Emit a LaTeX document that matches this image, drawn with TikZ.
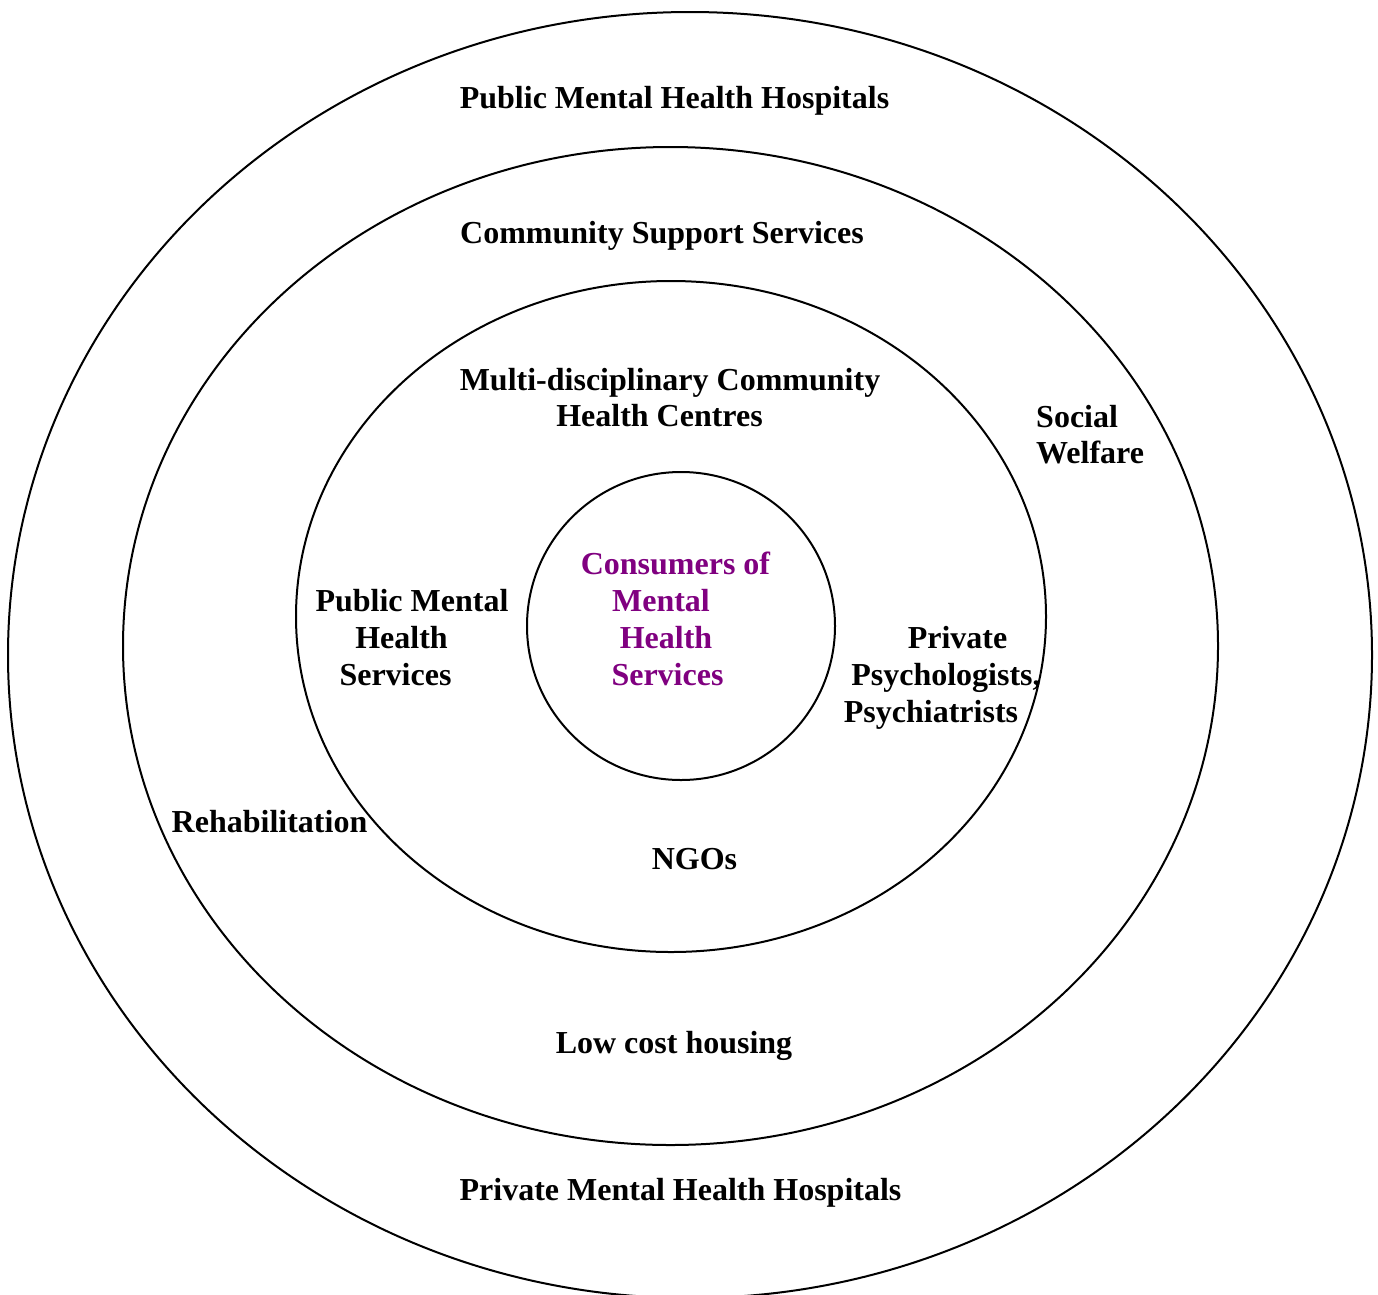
\documentclass[tikz,border=0pt]{standalone}
\usepackage{fontspec}
\setmainfont{Liberation Serif}
\definecolor{consumer}{RGB}{128,0,128}
\begin{document}
\begin{tikzpicture}[x=1pt,y=-1pt,
  ring/.style={line width=2pt},
  lbl/.style={anchor=base,inner sep=0pt,font=\fontsize{32}{36.8}\selectfont\bfseries},
  core/.style={lbl,text=consumer}]
\useasboundingbox (0,0) rectangle (1378,1294);
\clip (0,0) rectangle (1378,1294);
\fill[white] (0,0) rectangle (1378,1294);

% nested rings of services
\draw[ring] (690,655) ellipse [x radius=682, y radius=643];
\draw[ring] (670.5,646) ellipse [x radius=547.5, y radius=499];
\draw[ring] (671,616.5) ellipse [x radius=375, y radius=335.5];
\draw[ring] (681,626) circle [radius=154];

% outer ring
\node[lbl] (pubhosp) at (674.5,108) {Public Mental Health Hospitals};
\node[lbl] (privhosp) at (680.5,1200) {Private Mental Health Hospitals};

% second ring
\node[lbl] (css) at (662,243) {Community Support Services};
\node[lbl,anchor=base west] (soc1) at (1036,427) {Social};
\node[lbl,anchor=base west] (soc2) at (1036,463) {Welfare};
\node[lbl] (rehab) at (269.5,832) {Rehabilitation};
\node[lbl] (housing) at (674,1053) {Low cost housing};

% third ring
\node[lbl] (mdc1) at (670,390) {Multi-disciplinary Community};
\node[lbl] (mdc2) at (659.5,426) {Health Centres};
\node[lbl] (pms1) at (412,611) {Public Mental};
\node[lbl] (pms2) at (401.5,648) {Health};
\node[lbl] (pms3) at (395.5,685) {Services};
\node[lbl] (pp1) at (957.5,648) {Private};
\node[lbl] (pp2) at (946,685) {Psychologists,};
\node[lbl] (pp3) at (931,722) {Psychiatrists};
\node[lbl] (ngo) at (694.5,869) {NGOs};

% centre
\node[core] (con1) at (675.5,574) {Consumers of};
\node[core] (con2) at (661,611) {Mental};
\node[core] (con3) at (666,648) {Health};
\node[core] (con4) at (667.5,685) {Services};
\end{tikzpicture}
\end{document}
